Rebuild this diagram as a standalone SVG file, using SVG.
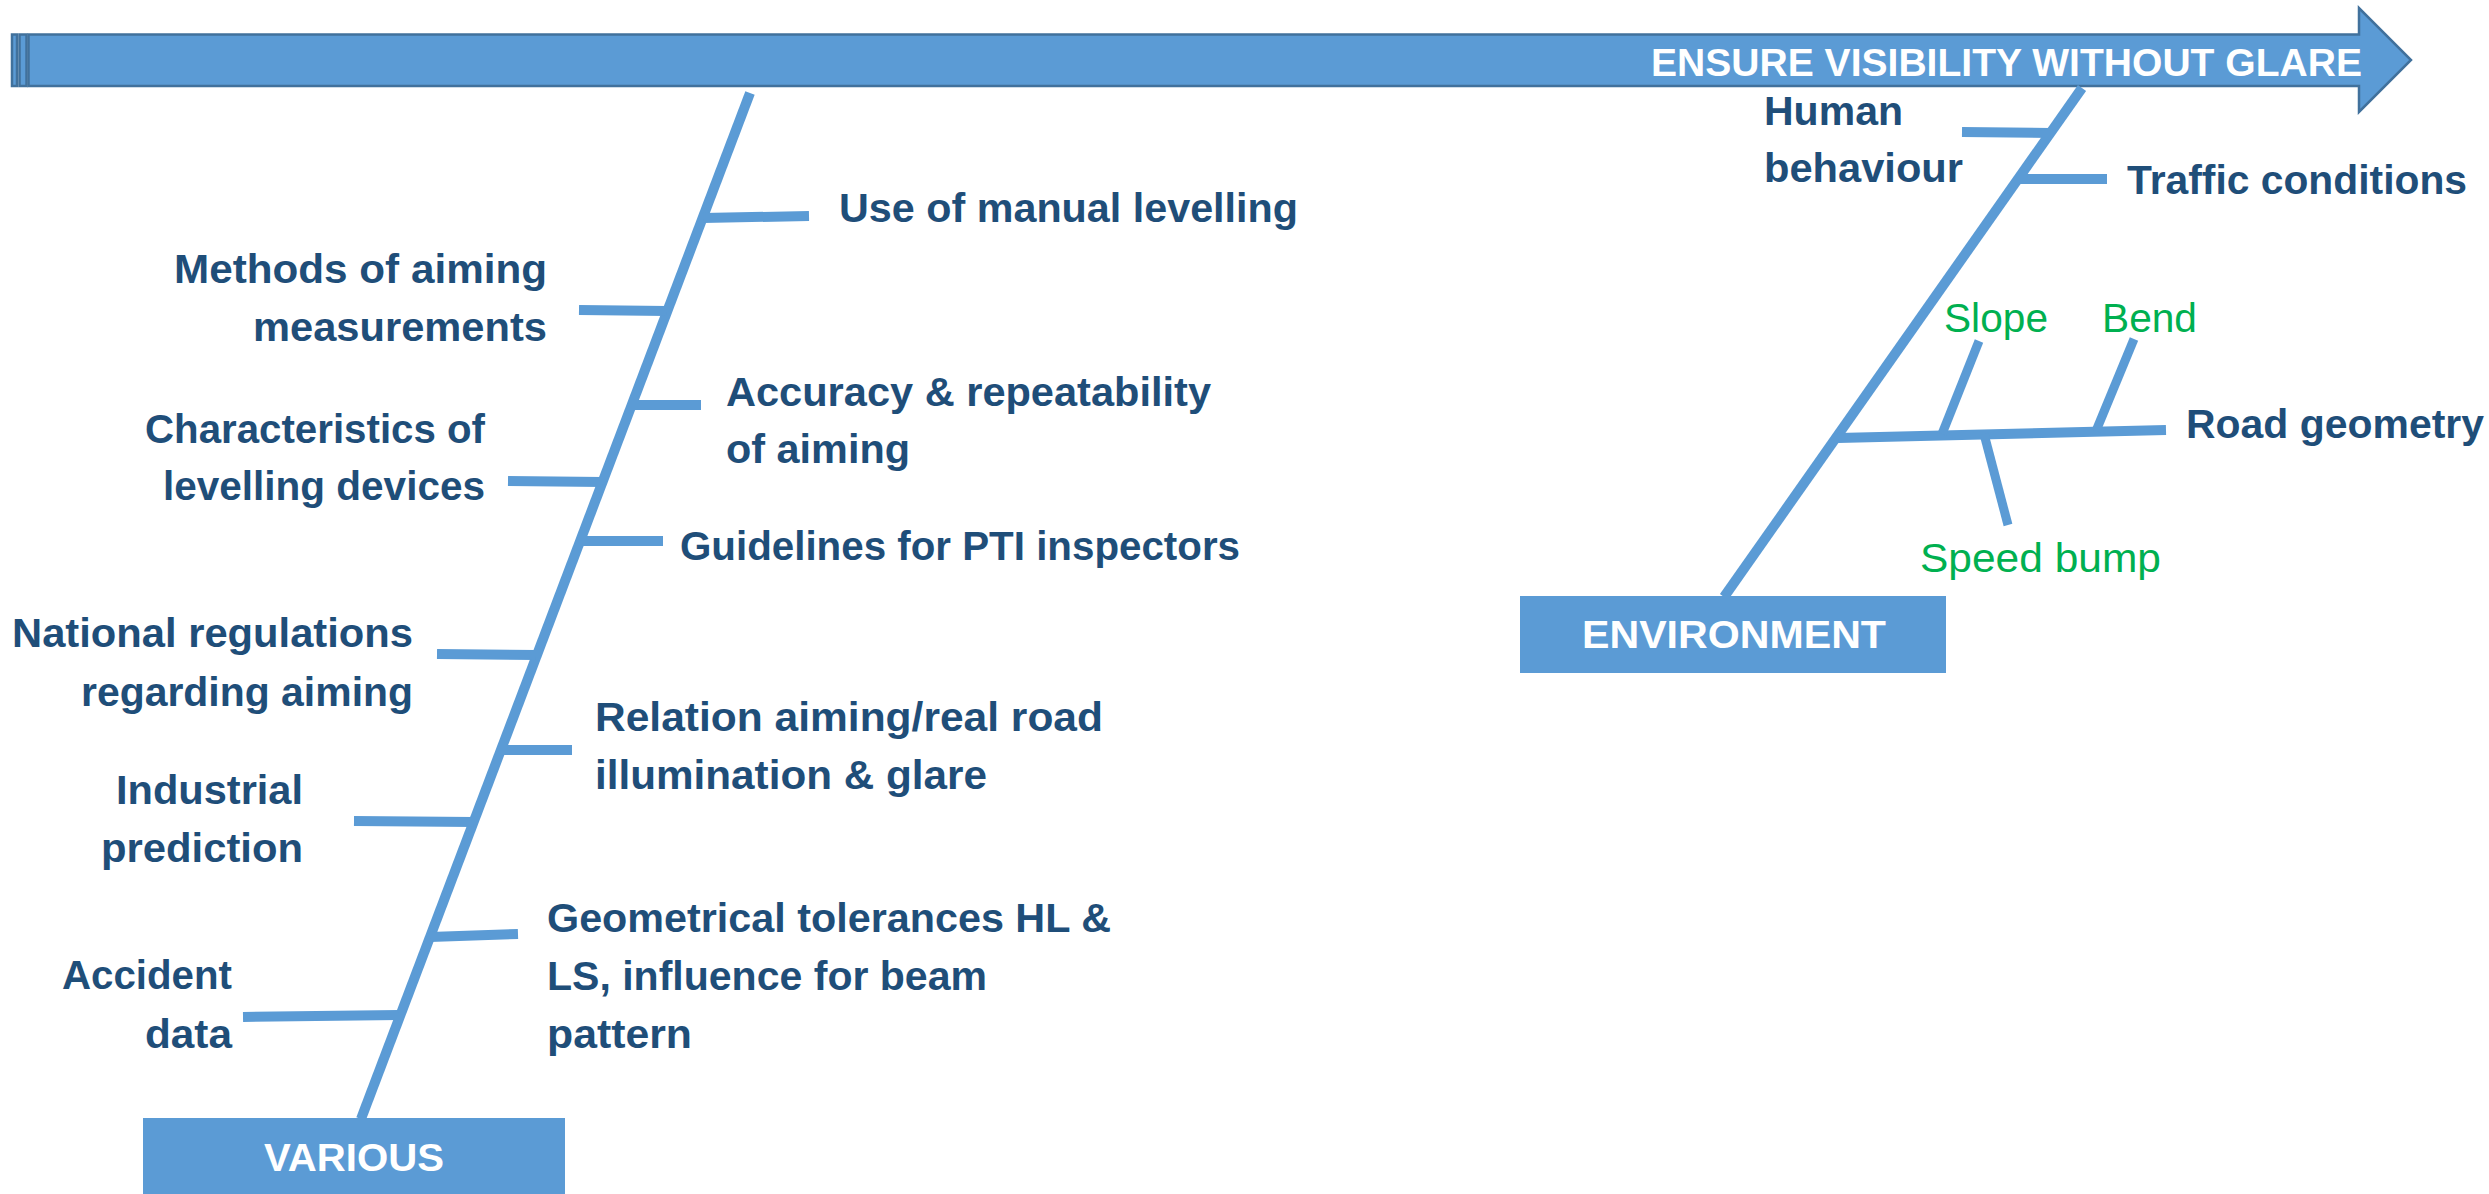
<svg xmlns="http://www.w3.org/2000/svg" width="2489" height="1194" viewBox="0 0 2489 1194">
<style>
.ln{stroke:#5B9BD5;stroke-width:10;fill:none;stroke-linecap:butt}
.sub{stroke:#5B9BD5;stroke-width:9;fill:none}
.t{font-family:"Liberation Sans",Arial,sans-serif;font-weight:bold;font-size:41px;fill:#1F4E79}
.g{font-family:"Liberation Sans",Arial,sans-serif;font-size:41px;fill:#00B050}
.w{font-family:"Liberation Sans",Arial,sans-serif;font-weight:bold;font-size:39px;fill:#FFFFFF}
.box{fill:#5B9BD5}
.bar{fill:#5B9BD5;stroke:#41719C;stroke-width:2.5}
</style>
<g id="effect">
<rect class="bar" x="12" y="34.5" width="5" height="51.5"/>
<rect class="bar" x="19.5" y="34.5" width="7" height="51.5"/>
<path class="bar" d="M28.5,34.5 L2359,34.5 L2359,8 L2411,60 L2359,112 L2359,86 L28.5,86 Z"/>
<text class="w" x="1651" y="76" font-size="41" textLength="711" lengthAdjust="spacingAndGlyphs">ENSURE VISIBILITY WITHOUT GLARE</text>
</g>
<g id="connectors">
<line class="ln" x1="750" y1="93" x2="361" y2="1119"/>
<line class="ln" x1="2082" y1="88" x2="1724" y2="597"/>
<line class="ln" x1="703" y1="218" x2="809" y2="216"/>
<line class="ln" x1="579" y1="310" x2="667" y2="311"/>
<line class="ln" x1="631" y1="405" x2="701" y2="405"/>
<line class="ln" x1="508" y1="481" x2="603" y2="482"/>
<line class="ln" x1="580" y1="541" x2="663" y2="541"/>
<line class="ln" x1="437" y1="654" x2="536" y2="655"/>
<line class="ln" x1="500" y1="750" x2="572" y2="750"/>
<line class="ln" x1="354" y1="821" x2="474" y2="822"/>
<line class="ln" x1="430" y1="937" x2="518" y2="934"/>
<line class="ln" x1="243" y1="1017" x2="399" y2="1015"/>
<line class="ln" x1="1962" y1="132" x2="2051" y2="133"/>
<line class="ln" x1="2017" y1="179" x2="2107" y2="179"/>
<line class="ln" x1="1838" y1="438" x2="2166" y2="430"/>
<line class="sub" x1="1942" y1="434" x2="1979" y2="341"/>
<line class="sub" x1="2096" y1="431" x2="2134" y2="339"/>
<line class="sub" x1="1984" y1="434" x2="2008" y2="525"/>
</g>
<g id="various">
<rect class="box" x="143" y="1118" width="422" height="80"/>
<text class="w" x="264" y="1171" textLength="180" lengthAdjust="spacingAndGlyphs">VARIOUS</text>
</g>
<g id="environment">
<rect class="box" x="1520" y="596" width="426" height="77"/>
<text class="w" x="1582" y="648" textLength="304" lengthAdjust="spacingAndGlyphs">ENVIRONMENT</text>
</g>
<g id="use-manual-levelling"><text class="t" x="839" y="222" textLength="459" lengthAdjust="spacingAndGlyphs">Use of manual levelling</text></g>
<g id="methods-aiming">
<text class="t" x="547" y="283" text-anchor="end" textLength="373" lengthAdjust="spacingAndGlyphs">Methods of aiming</text>
<text class="t" x="547" y="341" text-anchor="end" textLength="294" lengthAdjust="spacingAndGlyphs">measurements</text>
</g>
<g id="accuracy">
<text class="t" x="726" y="406" textLength="485" lengthAdjust="spacingAndGlyphs">Accuracy &amp; repeatability</text>
<text class="t" x="726" y="463" textLength="184" lengthAdjust="spacingAndGlyphs">of aiming</text>
</g>
<g id="characteristics">
<text class="t" x="485" y="443" text-anchor="end" textLength="340" lengthAdjust="spacingAndGlyphs">Characteristics of</text>
<text class="t" x="485" y="500" text-anchor="end" textLength="322" lengthAdjust="spacingAndGlyphs">levelling devices</text>
</g>
<g id="guidelines"><text class="t" x="680" y="560" textLength="560" lengthAdjust="spacingAndGlyphs">Guidelines for PTI inspectors</text></g>
<g id="national-regulations">
<text class="t" x="413" y="647" text-anchor="end" textLength="401" lengthAdjust="spacingAndGlyphs">National regulations</text>
<text class="t" x="413" y="706" text-anchor="end" textLength="332" lengthAdjust="spacingAndGlyphs">regarding aiming</text>
</g>
<g id="relation">
<text class="t" x="595" y="731" textLength="508" lengthAdjust="spacingAndGlyphs">Relation aiming/real road</text>
<text class="t" x="595" y="789" textLength="392" lengthAdjust="spacingAndGlyphs">illumination &amp; glare</text>
</g>
<g id="industrial">
<text class="t" x="303" y="804" text-anchor="end" textLength="187" lengthAdjust="spacingAndGlyphs">Industrial</text>
<text class="t" x="303" y="862" text-anchor="end" textLength="202" lengthAdjust="spacingAndGlyphs">prediction</text>
</g>
<g id="geometrical">
<text class="t" x="547" y="932" textLength="564" lengthAdjust="spacingAndGlyphs">Geometrical tolerances HL &amp;</text>
<text class="t" x="547" y="990" textLength="440" lengthAdjust="spacingAndGlyphs">LS, influence for beam</text>
<text class="t" x="547" y="1048" textLength="145" lengthAdjust="spacingAndGlyphs">pattern</text>
</g>
<g id="accident">
<text class="t" x="232" y="989" text-anchor="end" textLength="170" lengthAdjust="spacingAndGlyphs">Accident</text>
<text class="t" x="232" y="1048" text-anchor="end" textLength="87" lengthAdjust="spacingAndGlyphs">data</text>
</g>
<g id="human-behaviour">
<text class="t" x="1764" y="125" textLength="139" lengthAdjust="spacingAndGlyphs">Human</text>
<text class="t" x="1764" y="182" textLength="199" lengthAdjust="spacingAndGlyphs">behaviour</text>
</g>
<g id="traffic-conditions"><text class="t" x="2127" y="194" textLength="340" lengthAdjust="spacingAndGlyphs">Traffic conditions</text></g>
<g id="road-geometry"><text class="t" x="2186" y="438" textLength="298" lengthAdjust="spacingAndGlyphs">Road geometry</text></g>
<g id="slope"><text class="g" x="1944" y="332" textLength="104" lengthAdjust="spacingAndGlyphs">Slope</text></g>
<g id="bend"><text class="g" x="2102" y="332" textLength="95" lengthAdjust="spacingAndGlyphs">Bend</text></g>
<g id="speed-bump"><text class="g" x="1920" y="572" textLength="241" lengthAdjust="spacingAndGlyphs">Speed bump</text></g>
</svg>
